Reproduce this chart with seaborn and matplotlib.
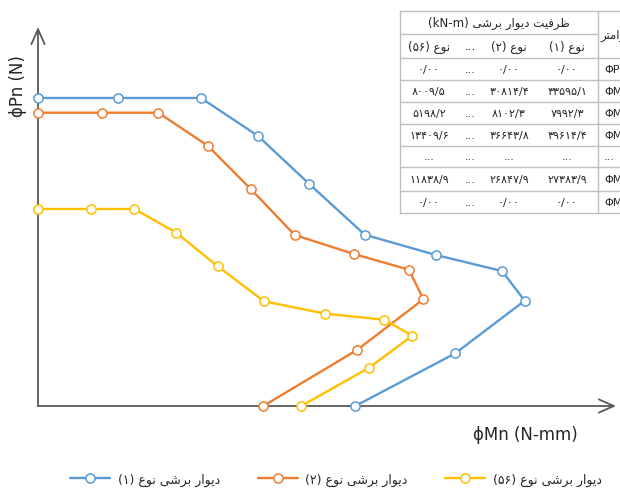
import matplotlib
matplotlib.use("Agg")
import matplotlib.pyplot as plt
import numpy as np
import pandas as pd
import seaborn as sns
from matplotlib.lines import Line2D
from matplotlib.patches import Rectangle

# ---------------- data ----------------
series_names = ["دیوار برشی نوع (۱)", "دیوار برشی نوع (۲)", "دیوار برشی نوع (۵۶)"]
series_colors = ["#5B9BD5", "#ED7D31", "#FFC000"]

mn_type1 = [0, 79.7, 163, 219.7, 271.3, 326.7, 398, 464, 486.7, 417.3, 317.3]
pn_type1 = [308, 308, 308, 270.3, 222, 171.3, 151, 135, 105.3, 52.7, 0]
mn_type2 = [0, 63.7, 120.3, 169.7, 212.7, 256.7, 316, 371, 385.3, 319, 225.3]
pn_type2 = [293.3, 293.3, 293.3, 260.3, 217, 171, 152, 136.3, 106.7, 56, 0]
mn_type56 = [0, 52.7, 96.3, 138.3, 179.7, 226, 287.3, 346.3, 374.3, 330.7, 263.3]
pn_type56 = [197, 197, 197, 173.3, 139.7, 104.7, 92.3, 86.3, 70.3, 38, 0]

x_label = "ϕMn (N-mm)"
y_label = "ϕPn (N)"

table_title = "ظرفیت دیوار برشی (kN-m)"
table_param_title = "پارامتر"
table_col_titles = ["نوع (۵۶)", "...", "نوع (۲)", "نوع (۱)"]
table_params = ["ΦPn", "ΦMn", "ΦMn", "ΦMn", "...", "ΦMn", "ΦMn"]
col_type1 = [0.0, 33595.1, 7992.3, 39614.4, None, 27383.9, 0.0]
col_type2 = [0.0, 30814.4, 8102.3, 36643.8, None, 26847.9, 0.0]
col_type56 = [0.0, 8009.5, 5198.2, 13409.6, None, 11838.9, 0.0]

# ---------------- Persian text helpers ----------------
FORMS = {
    "ا": ("\uFE8D", "\uFE8E", None, None),
    "ب": ("\uFE8F", "\uFE90", "\uFE91", "\uFE92"),
    "پ": ("\uFB56", "\uFB57", "\uFB58", "\uFB59"),
    "ت": ("\uFE95", "\uFE96", "\uFE97", "\uFE98"),
    "د": ("\uFEA9", "\uFEAA", None, None),
    "ر": ("\uFEAD", "\uFEAE", None, None),
    "ش": ("\uFEB5", "\uFEB6", "\uFEB7", "\uFEB8"),
    "ظ": ("\uFEC5", "\uFEC6", "\uFEC7", "\uFEC8"),
    "ع": ("\uFEC9", "\uFECA", "\uFECB", "\uFECC"),
    "ف": ("\uFED1", "\uFED2", "\uFED3", "\uFED4"),
    "م": ("\uFEE1", "\uFEE2", "\uFEE3", "\uFEE4"),
    "ن": ("\uFEE5", "\uFEE6", "\uFEE7", "\uFEE8"),
    "و": ("\uFEED", "\uFEEE", None, None),
    "ی": ("\uFEEF", "\uFEF0", "\uFEF3", "\uFEF4"),
}


def shape_word(w):
    out = []
    for i, ch in enumerate(w):
        if ch not in FORMS:
            out.append(ch)
            continue
        f = FORMS[ch]
        prev_j = i > 0 and w[i - 1] in FORMS and FORMS[w[i - 1]][2] is not None
        next_j = i + 1 < len(w) and w[i + 1] in FORMS and f[2] is not None
        if prev_j and next_j:
            out.append(f[3])
        elif prev_j:
            out.append(f[1])
        elif next_j:
            out.append(f[2])
        else:
            out.append(f[0])
    return "".join(out)


def rtl(s):
    words = s.split(" ")
    vis = []
    for w in words:
        if any(c in FORMS for c in w):
            vis.append(shape_word(w)[::-1])
        else:
            vis.append(w)
    return " ".join(reversed(vis))


FA_DIGITS = str.maketrans("0123456789", "۰۱۲۳۴۵۶۷۸۹")


def fa_num(v):
    if v is None:
        return "..."
    if v == 0:
        s = "0/00"
    else:
        s = f"{v:.1f}".replace(".", "/")
    return s.translate(FA_DIGITS)


# ---------------- figure ----------------
sns.set_theme(style="white")
plt.rcParams["font.family"] = ["DejaVu Sans"]

W, H = 620, 489
fig = plt.figure(figsize=(W / 100, H / 100), dpi=100)
fig.patch.set_facecolor("white")

ox, oy = 38, 407
x_end, y_top = 616, 28
ax = fig.add_axes([ox / W, 1 - oy / H, (x_end - ox) / W, (oy - y_top) / H])
ax.set_xlim(0, x_end - ox)
ax.set_ylim(0, oy - y_top)

all_x = [mn_type1, mn_type2, mn_type56]
all_y = [pn_type1, pn_type2, pn_type56]
for name, xs, ys, col in zip(series_names, all_x, all_y, series_colors):
    df = pd.DataFrame({"Mn": xs, "Pn": ys})
    sns.lineplot(data=df, x="Mn", y="Pn", sort=False, color=col, lw=1.7,
                 marker="o", markersize=6.6, markerfacecolor="white",
                 markeredgecolor=col, markeredgewidth=1.1, ax=ax,
                 clip_on=False, label=rtl(name), zorder=3)

handles, labels = ax.get_legend_handles_labels()
if ax.get_legend() is not None:
    ax.get_legend().remove()
ax.axis("off")

axis_col = "#595959"
for xy in [(1, 0), (0, 1)]:
    ax.annotate("", xy=xy, xytext=(0, 0), xycoords="axes fraction",
                arrowprops=dict(arrowstyle="->,head_length=0.9,head_width=0.4",
                                color=axis_col, lw=1.3, shrinkA=0, shrinkB=0),
                annotation_clip=False, zorder=1)

fig.text(18 / W, 1 - 86 / H, y_label, rotation=90, ha="center", va="center",
         fontsize=12, color="#262626")
fig.text(525 / W, 1 - 435 / H, x_label, ha="center", va="center",
         fontsize=12, color="#262626")

fig.legend(handles, labels, loc="center", bbox_to_anchor=(336 / W, 1 - 480 / H),
           ncol=3, frameon=False, fontsize=9, handlelength=3.2,
           handletextpad=0.6, columnspacing=3.0)

# ---------------- table ----------------
def fx(x):
    return x / W


def fy(y):
    return 1 - y / H


tl, tr, tt, tb = 400, 660, 12, 214
fig.add_artist(Rectangle((fx(tl), fy(tb)), fx(tr) - fx(tl), fy(tt) - fy(tb),
                         transform=fig.transFigure, facecolor="white",
                         edgecolor="none", zorder=5))
grid_col = "#bfbfbf"
sep_x = 598
row_lines = [12, 59, 81, 103, 125, 147, 168, 192, 214]
for yy in row_lines:
    fig.add_artist(Line2D([fx(tl), fx(tr)], [fy(yy), fy(yy)], transform=fig.transFigure,
                          color=grid_col, lw=1.0, zorder=6))
fig.add_artist(Line2D([fx(tl), fx(sep_x)], [fy(35), fy(35)], transform=fig.transFigure,
                      color=grid_col, lw=1.0, zorder=6))
for xx in [tl, sep_x]:
    fig.add_artist(Line2D([fx(xx), fx(xx)], [fy(tt), fy(tb)], transform=fig.transFigure,
                          color=grid_col, lw=1.0, zorder=6))

tcol = "#262626"
fig.text(fx(499), fy(23), rtl(table_title), ha="center", va="center", fontsize=8.5,
         color=tcol, zorder=7)
fig.text(fx(600), fy(36), rtl(table_param_title), ha="left", va="center", fontsize=8.5,
         color=tcol, zorder=7)
col_x = [429, 470, 509, 567]
for cx, t in zip(col_x, table_col_titles):
    fig.text(fx(cx), fy(47), rtl(t), ha="center", va="center", fontsize=8.5,
             color=tcol, zorder=7)

row_y = [70, 92, 114, 136, 157, 180, 203]
cols = [col_type56, None, col_type2, col_type1]
for cx, colvals in zip(col_x, cols):
    for ry, i in zip(row_y, range(len(row_y))):
        if colvals is None:
            t = "..."
        else:
            t = fa_num(colvals[i])
        fig.text(fx(cx), fy(ry), t, ha="center", va="center", fontsize=8,
                 color=tcol, zorder=7)
for ry, p in zip(row_y, table_params):
    fig.text(fx(604), fy(ry), p, ha="left", va="center", fontsize=8,
             color=tcol, zorder=7)

fig.savefig("out.png", dpi=100)
